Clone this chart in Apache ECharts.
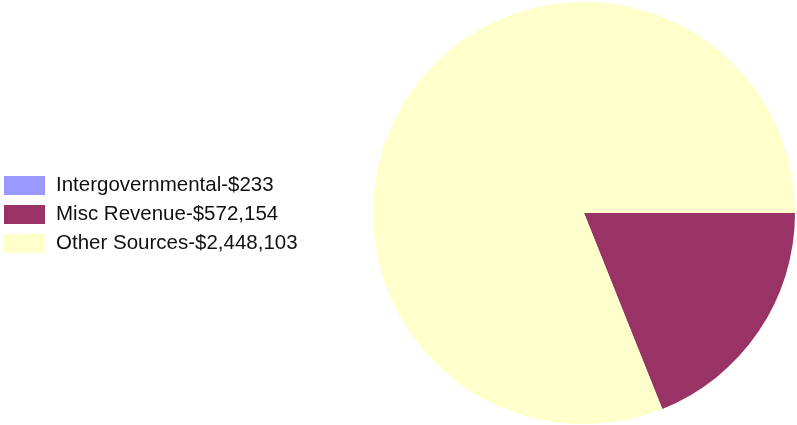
<!DOCTYPE html>
<html>
<head>
<meta charset="utf-8">
<script src="https://cdn.jsdelivr.net/npm/echarts@6/dist/echarts.min.js"></script>
<style>
  html, body { margin: 0; padding: 0; background: #fff; }
  #chart { width: 797px; height: 425px; }
</style>
</head>
<body>
<div id="chart"></div>
<script>
const names = ['Intergovernmental', 'Misc Revenue', 'Other Sources']
const values = [233, 572154, 2448103]
const colors = ['#9999ff', '#993366', '#ffffcc']

function money(v) {
  return '$' + String(v).replace(/\B(?=(\d{3})+(?!\d))/g, ',')
}

const chart = echarts.init(document.getElementById('chart'))
chart.setOption({
  animation: false,
  backgroundColor: '#fff',
  color: colors,
  legend: {
    orient: 'vertical',
    left: 4,
    top: 175,
    padding: 0,
    itemWidth: 41,
    itemHeight: 19,
    itemGap: 8,
    icon: 'rect',
    textStyle: {
      fontFamily: 'Liberation Sans, Arial, sans-serif',
      fontSize: 20.5,
      lineHeight: 19,
      color: '#111',
      padding: [0, 0, 0, 6]
    },
    formatter: function (name) {
      return name + '-' + money(values[names.indexOf(name)])
    },
    data: names
  },
  series: [
    {
      type: 'pie',
      center: [584, 213],
      radius: 211,
      startAngle: 0,
      clockwise: true,
      label: { show: false },
      labelLine: { show: false },
      emphasis: { disabled: true },
      itemStyle: { borderWidth: 0 },
      data: names.map((n, i) => ({ name: n, value: values[i] }))
    }
  ]
})
</script>
</body>
</html>
